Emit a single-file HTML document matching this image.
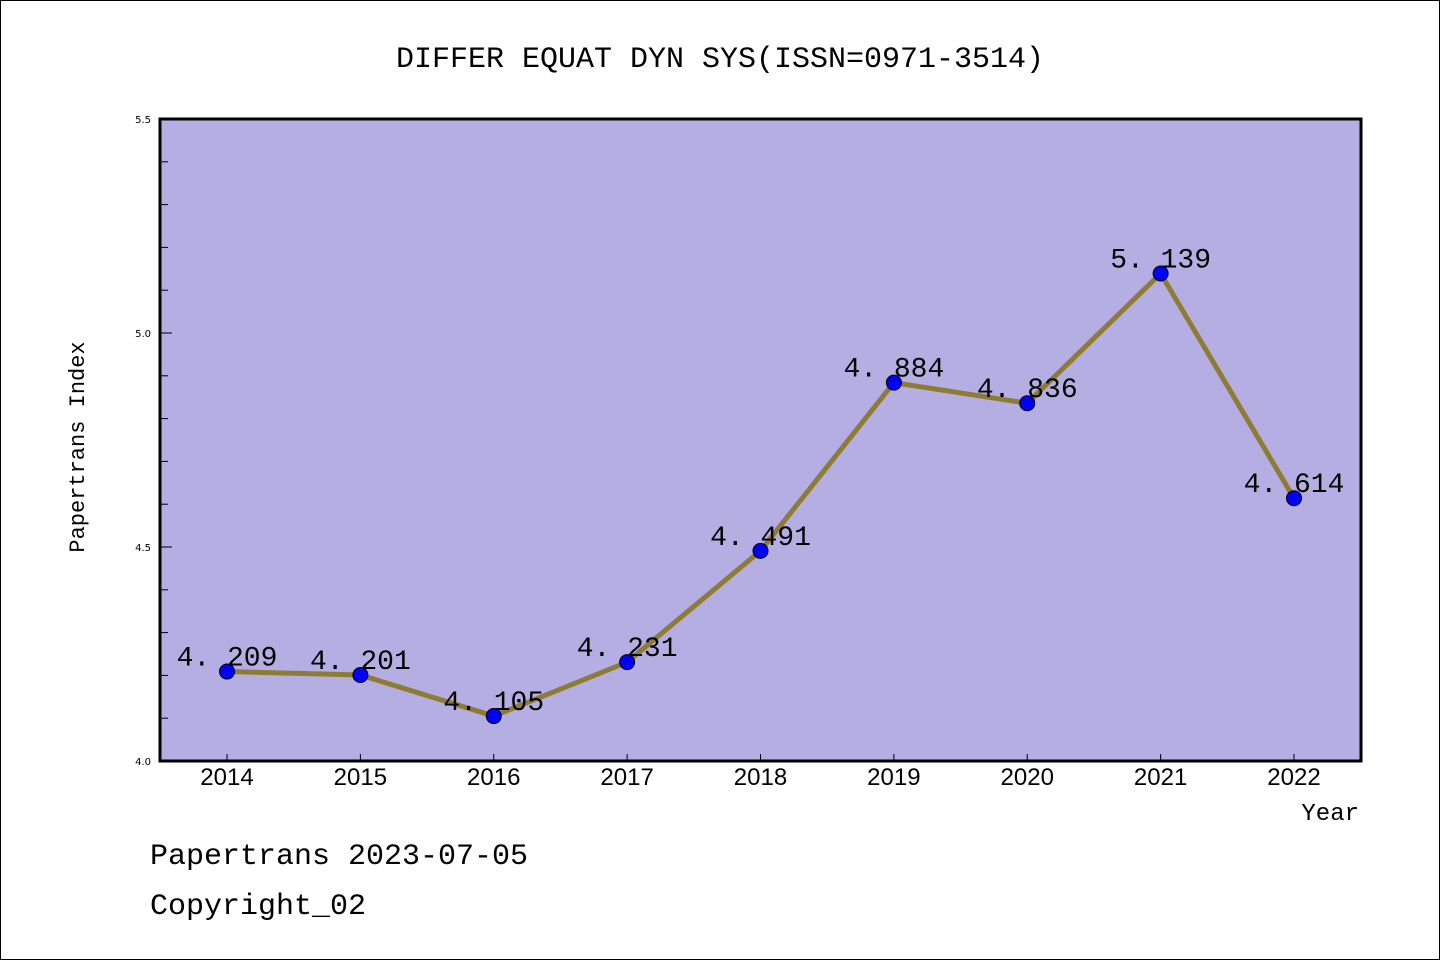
<!DOCTYPE html>
<html><head><meta charset="utf-8"><style>
html,body{margin:0;padding:0;background:#fff}
svg{display:block}
text{font-family:"Liberation Mono","DejaVu Sans Mono",monospace}
</style></head><body>
<svg id="chart" width="1440" height="960" viewBox="0 0 1440 960" xmlns="http://www.w3.org/2000/svg">
<rect x="0.5" y="0.5" width="1439" height="959" fill="#fff" stroke="#000" stroke-width="1"/>
<text x="720" y="67" text-anchor="middle" font-size="30" fill="#000">DIFFER EQUAT DYN SYS(ISSN=0971-3514)</text>
<rect x="160" y="119" width="1201" height="642" fill="#b5aee2"/>
<g id="yaxis"></g>
<g id="xaxis"></g>
<g id="series"></g>
<rect x="160" y="119" width="1201" height="642" fill="none" stroke="#000" stroke-width="3"/>
<text transform="translate(84,447) rotate(-90)" text-anchor="middle" font-size="22" fill="#000">Papertrans Index</text>
<text x="1359" y="820" text-anchor="end" font-size="24" fill="#000">Year</text>
<text x="150" y="864" font-size="30" fill="#000">Papertrans 2023-07-05</text>
<text x="150" y="914" font-size="30" fill="#000">Copyright_02</text>
</svg>
<script>
const categories = ["2014","2015","2016","2017","2018","2019","2020","2021","2022"];
const values = [4.209,4.201,4.105,4.231,4.491,4.884,4.836,5.139,4.614];
const valueLabels = ["4.209","4.201","4.105","4.231","4.491","4.884","4.836","5.139","4.614"];
const yTickLabels = ["4.0","4.5","5.0","5.5"];
const yTickValues = [4.0,4.5,5.0,5.5];
const yMin = 4.0, yMax = 5.5;

const NS = "http://www.w3.org/2000/svg";
const L = 160, R = 1361, T = 119, B = 761;
const x0 = 227, x1 = 1294;
function xs(i){ return x0 + (x1 - x0) * i / (categories.length - 1); }
function ys(v){ return B - (v - yMin) / (yMax - yMin) * (B - T); }
function mk(tag, attrs, parent){ const e = document.createElementNS(NS, tag); for (const k in attrs) e.setAttribute(k, attrs[k]); parent.appendChild(e); return e; }

const ya = document.getElementById("yaxis");
const nMinor = Math.round((yMax - yMin) / 0.1);
for (let j = 0; j <= nMinor; j++) {
  const v = yMin + j * 0.1;
  const major = j % 5 === 0;
  const t = mk("line", {x1: L, x2: L + (major ? 12 : 8), y1: ys(v), y2: ys(v), stroke: "#000", "stroke-width": 1}, ya);
  
  
}
yTickValues.forEach((v, i) => {
  const t = mk("text", {x: 151, y: ys(v) + 4, "text-anchor": "end", "font-size": 10, fill: "#000", style: "font-family:'DejaVu Sans',sans-serif"}, ya);
  t.textContent = yTickLabels[i];
  
  
});

const xa = document.getElementById("xaxis");
categories.forEach((c, i) => {
  const t = mk("line", {x1: xs(i), x2: xs(i), y1: B, y2: B - 7, stroke: "#000", "stroke-width": 1}, xa);
  
  
  const lb = mk("text", {x: xs(i), y: 785, "text-anchor": "middle", "font-size": 24, fill: "#000", style: "font-family:'Liberation Sans',sans-serif"}, xa);
  lb.textContent = c;
  
  
});

const sg = document.getElementById("series");
const pts = values.map((v, i) => xs(i) + "," + ys(v)).join(" ");
const line = mk("polyline", {points: pts, fill: "none", stroke: "#8f7c34", "stroke-width": 5, "stroke-linejoin": "round"}, sg);


values.forEach((v, i) => {
  const c = mk("circle", {cx: xs(i), cy: ys(v), r: 7.5, fill: "#0000ff", stroke: "#000", "stroke-width": 1}, sg);
  
  
  const t = mk("text", {x: xs(i), y: ys(v) - 6, "text-anchor": "middle", "font-size": 28, fill: "#000"}, sg);
  t.textContent = valueLabels[i].replace(".", ". ");
  
  
});
</script>
</body></html>
